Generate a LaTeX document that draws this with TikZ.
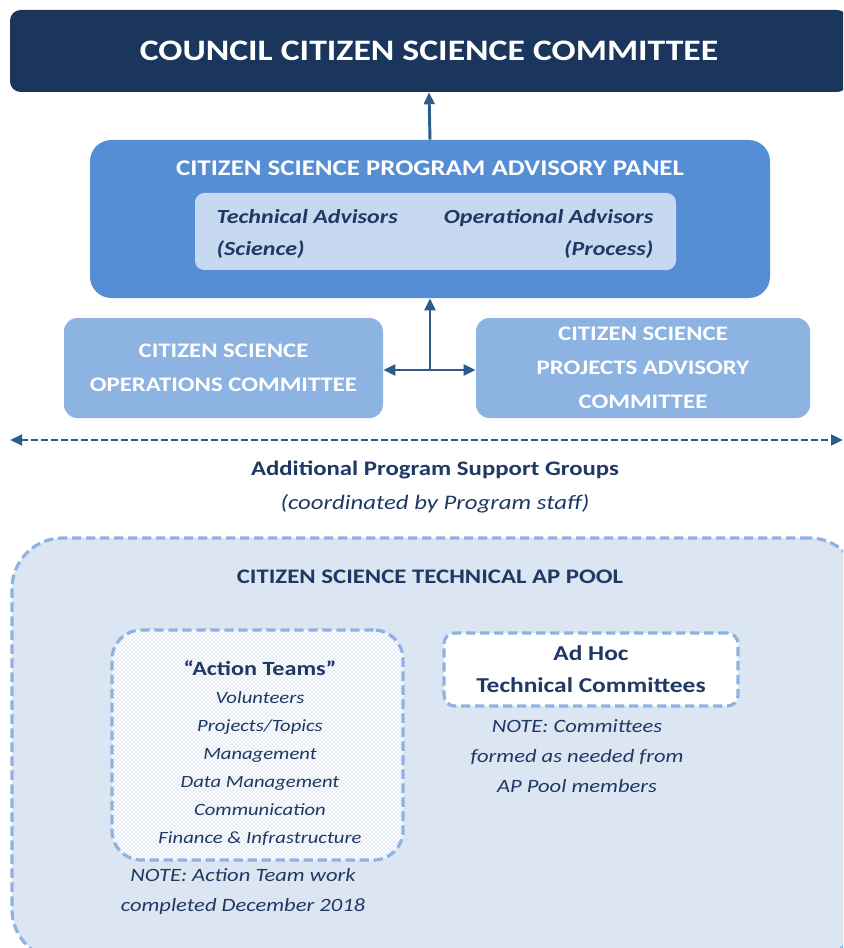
\documentclass[tikz,border=0pt]{standalone}
\usepackage{fontspec}
\setmainfont{Carlito}[FakeStretch=1.2]
\usetikzlibrary{arrows.meta,patterns}
\definecolor{navy}{HTML}{1B365D}
\definecolor{txtnavy}{HTML}{1F3864}
\definecolor{arrowblue}{HTML}{2E5C8A}
\definecolor{panelblue}{HTML}{558ED5}
\definecolor{innerblue}{HTML}{C6D9F1}
\definecolor{midblue}{HTML}{8DB3E2}
\definecolor{poolblue}{HTML}{DCE6F2}
\definecolor{dotblue}{HTML}{8FAEDB}
\begin{document}
\begin{tikzpicture}[x=0.75pt, y=-0.75pt, line join=round,
	>={Triangle[length=9pt,width=8pt]},
	conn/.style={draw=arrowblue, line width=2.2pt},
	headtxt/.style={text=white, font=\bfseries, align=center},
	darktxt/.style={text=txtnavy, align=center},
	notetxt/.style={text=txtnavy, font=\fontsize{14.1}{22.5}\selectfont\itshape, align=center},
	dashbox/.style={draw=midblue, line width=2.4pt, dash pattern=on 7pt off 3.5pt}]
	\def \W{843}
	\def \H{948}
	\useasboundingbox (0,0) rectangle (\W,\H);
	\clip (0,0) rectangle (\W,\H);
	% council
	\node[fill=navy, rounded corners=8pt, minimum width=628.5pt, minimum height=61.5pt,
		headtxt, font=\fontsize{22.3}{28}\selectfont\bfseries] (council) at (429,51)
		{COUNCIL CITIZEN SCIENCE COMMITTEE};
	% advisory panel
	\node[fill=panelblue, rounded corners=16pt, minimum width=510pt, minimum height=118.5pt] (panel) at (430,219) {};
	\node[headtxt, font=\fontsize{16.8}{21}\selectfont\bfseries] (paneltitle) at (430,168)
		{CITIZEN SCIENCE PROGRAM ADVISORY PANEL};
	\node[fill=innerblue, rounded corners=7pt, minimum width=360.75pt, minimum height=57.75pt] (advisors) at (435.5,231.5) {};
	\node[darktxt, align=left, anchor=west, font=\fontsize{15}{24}\selectfont\bfseries\itshape] (tech) at (212,234)
		{Technical Advisors\\(Science)};
	\node[darktxt, align=right, anchor=east, font=\fontsize{15}{24}\selectfont\bfseries\itshape] (oper) at (658,234)
		{Operational Advisors\\(Process)};
	% committees
	\node[fill=midblue, rounded corners=10pt, minimum width=239.25pt, minimum height=75pt,
		headtxt, font=\fontsize{15.5}{25.5}\selectfont\bfseries] (ops) at (223.5,368)
		{CITIZEN SCIENCE\\OPERATIONS COMMITTEE};
	\node[fill=midblue, rounded corners=10pt, minimum width=250.5pt, minimum height=75pt,
		headtxt, font=\fontsize{15.5}{25.5}\selectfont\bfseries] (proj) at (643,368)
		{CITIZEN SCIENCE\\PROJECTS ADVISORY\\COMMITTEE};
	\coordinate (hub) at (430,370);
	\draw[conn, <->] (ops.east|-hub) -- (proj.west|-hub);
	\draw[conn, ->] (hub) -- (panel.south);
	\draw[conn, ->] (panel.north) -- (council.south);
	% support groups
	\coordinate (supL) at (10,440);
	\coordinate (supR) at (843,440);
	\draw[conn, <->, dash pattern=on 5pt off 2.5pt] (supL) -- (supR);
	\node[darktxt, font=\fontsize{15.5}{25}\selectfont] (support) at (435,487)
		{\textbf{Additional Program Support Groups}\\\textit{(coordinated by Program staff)}};
	% AP pool
	\node[dashbox, fill=poolblue, rounded corners=38pt, minimum width=636pt, minimum height=316.5pt] (pool) at (436,749) {};
	\node[darktxt, font=\fontsize{15.5}{20}\selectfont\bfseries] (pooltitle) at (430,577)
		{CITIZEN SCIENCE TECHNICAL AP POOL};
	\node[dashbox, preaction={fill=white}, pattern=crosshatch dots, pattern color=dotblue,
		rounded corners=22pt, minimum width=218.25pt, minimum height=172.5pt] (action) at (257.5,745) {};
	\node[darktxt, font=\fontsize{12.9}{21}\selectfont\itshape, anchor=north] (teams) at (260,656)
		{{\fontsize{15.1}{21}\selectfont\bfseries\upshape “Action Teams”}\\Volunteers\\Projects/Topics\\Management\\Data Management\\Communication\\Finance \& Infrastructure};
	\node[notetxt] (actnote) at (243,891)
		{NOTE: Action Team work\\completed December 2018};
	\node[dashbox, fill=white, rounded corners=8pt, minimum width=220.5pt, minimum height=54.75pt,
		darktxt, font=\fontsize{15.9}{24}\selectfont\bfseries] (adhoc) at (591,669.5)
		{Ad Hoc\\Technical Committees};
	\node[notetxt] (adhocnote) at (577,756)
		{NOTE: Committees\\formed as needed from\\AP Pool members};
\end{tikzpicture}
\end{document}
